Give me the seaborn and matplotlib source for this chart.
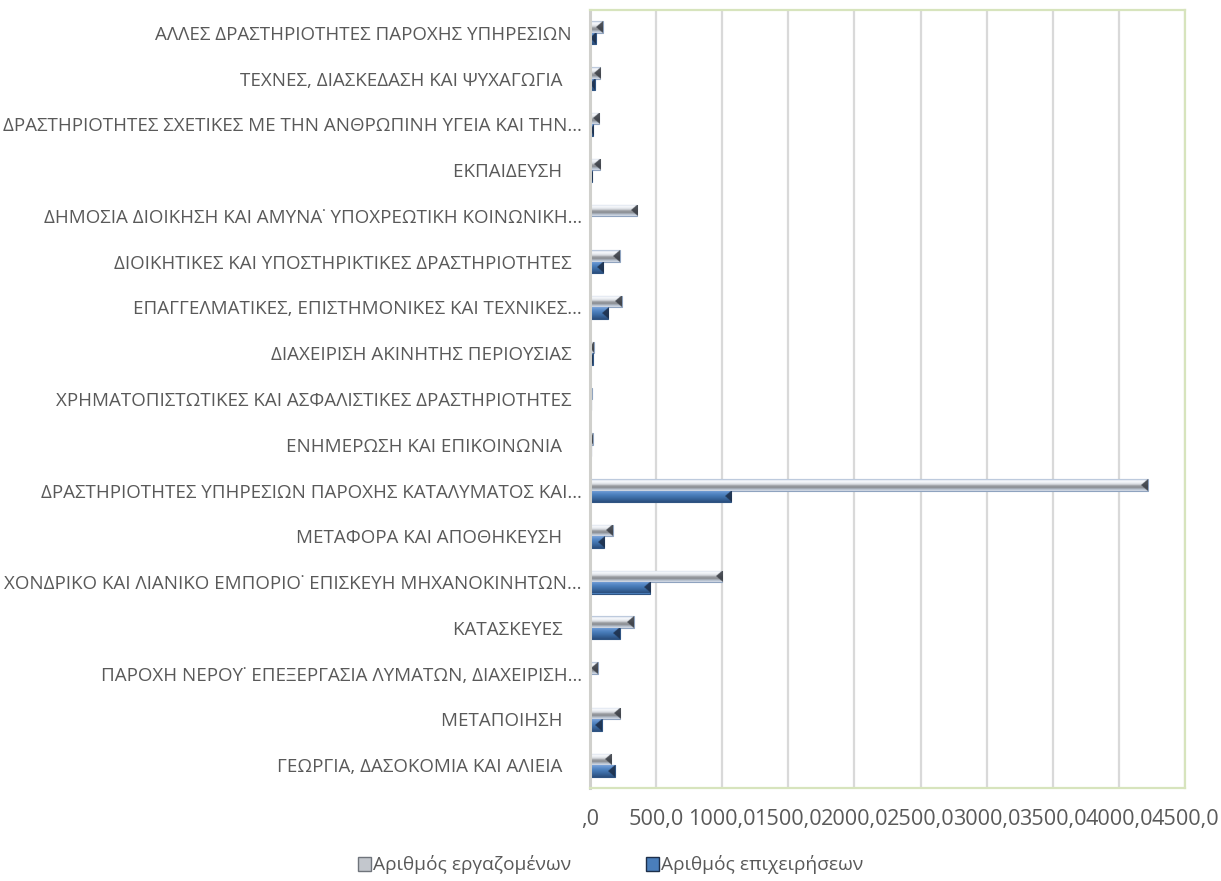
import numpy as np
import pandas as pd
import matplotlib
matplotlib.use("Agg")
import matplotlib.pyplot as plt
from matplotlib.colors import LinearSegmentedColormap, to_rgb
from matplotlib.patches import Patch
import seaborn as sns

# ---------------- data (top to bottom as shown) ----------------
categories = [
    "ΑΛΛΕΣ ΔΡΑΣΤΗΡΙΟΤΗΤΕΣ ΠΑΡΟΧΗΣ ΥΠΗΡΕΣΙΩΝ  ",
    "ΤΕΧΝΕΣ, ΔΙΑΣΚΕΔΑΣΗ ΚΑΙ ΨΥΧΑΓΩΓΙΑ    ",
    "ΔΡΑΣΤΗΡΙΟΤΗΤΕΣ ΣΧΕΤΙΚΕΣ ΜΕ ΤΗΝ ΑΝΘΡΩΠΙΝΗ ΥΓΕΙΑ ΚΑΙ ΤΗΝ…",
    "ΕΚΠΑΙΔΕΥΣΗ    ",
    "ΔΗΜΟΣΙΑ ΔΙΟΙΚΗΣΗ ΚΑΙ ΑΜΥΝΑ˙ ΥΠΟΧΡΕΩΤΙΚΗ ΚΟΙΝΩΝΙΚΗ…",
    "ΔΙΟΙΚΗΤΙΚΕΣ ΚΑΙ ΥΠΟΣΤΗΡΙΚΤΙΚΕΣ ΔΡΑΣΤΗΡΙΟΤΗΤΕΣ  ",
    "ΕΠΑΓΓΕΛΜΑΤΙΚΕΣ, ΕΠΙΣΤΗΜΟΝΙΚΕΣ ΚΑΙ ΤΕΧΝΙΚΕΣ…",
    "ΔΙΑΧΕΙΡΙΣΗ ΑΚΙΝΗΤΗΣ ΠΕΡΙΟΥΣΙΑΣ  ",
    "ΧΡΗΜΑΤΟΠΙΣΤΩΤΙΚΕΣ ΚΑΙ ΑΣΦΑΛΙΣΤΙΚΕΣ ΔΡΑΣΤΗΡΙΟΤΗΤΕΣ  ",
    "ΕΝΗΜΕΡΩΣΗ ΚΑΙ ΕΠΙΚΟΙΝΩΝΙΑ    ",
    "ΔΡΑΣΤΗΡΙΟΤΗΤΕΣ ΥΠΗΡΕΣΙΩΝ ΠΑΡΟΧΗΣ ΚΑΤΑΛΥΜΑΤΟΣ ΚΑΙ…",
    "ΜΕΤΑΦΟΡΑ ΚΑΙ ΑΠΟΘΗΚΕΥΣΗ    ",
    "ΧΟΝΔΡΙΚΟ ΚΑΙ ΛΙΑΝΙΚΟ ΕΜΠΟΡΙΟ˙ ΕΠΙΣΚΕΥΗ ΜΗΧΑΝΟΚΙΝΗΤΩΝ…",
    "ΚΑΤΑΣΚΕΥΕΣ    ",
    "ΠΑΡΟΧΗ ΝΕΡΟΥ˙ ΕΠΕΞΕΡΓΑΣΙΑ ΛΥΜΑΤΩΝ, ΔΙΑΧΕΙΡΙΣΗ…",
    "ΜΕΤΑΠΟΙΗΣΗ    ",
    "ΓΕΩΡΓΙΑ, ΔΑΣΟΚΟΜΙΑ ΚΑΙ ΑΛΙΕΙΑ    ",
]
employees = [95, 78, 71, 76, 358, 225, 240, 30, 13, 20, 4220, 172, 1000, 332, 57, 230, 162]
businesses = [45, 35, 25, 18, 0, 100, 137, 22, 4, 8, 1068, 107, 457, 225, 3, 90, 187]
series_names = ["Αριθμός εργαζομένων", "Αριθμός επιχειρήσεων"]
x_ticks = [0, 500, 1000, 1500, 2000, 2500, 3000, 3500, 4000, 4500]
x_tick_labels = [",0", "500,0", "1000,0", "1500,0", "2000,0", "2500,0",
                 "3000,0", "3500,0", "4000,0", "4500,0"]

df = pd.DataFrame({
    "category": categories * 2,
    "value": employees + businesses,
    "series": [series_names[0]] * len(categories) + [series_names[1]] * len(categories),
})

# ---------------- style ----------------
sns.set_theme(style="white")
FONT = ["Open Sans", "DejaVu Sans"]
plt.rcParams["font.family"] = FONT
TEXT = "#595959"

gray_mid = "#b9bdc4"
blue_mid = "#4a7ebb"
palette = {series_names[0]: gray_mid, series_names[1]: blue_mid}

fig = plt.figure(figsize=(12.21, 8.81), dpi=100)
ax = fig.add_axes([590 / 1221, 1 - 788 / 881, 595 / 1221, 778 / 881])

sns.barplot(data=df, y="category", x="value", hue="series", hue_order=series_names,
            palette=palette, orient="h", width=0.5, ax=ax, legend=False,
            saturation=1, linewidth=0.8)

ax.set_xlim(0, 4500)
ax.set_ylim(len(categories) - 0.5, -0.5)
ax.set_xticks(x_ticks)
ax.set_xticklabels(x_tick_labels, fontsize=15.6, color=TEXT)
ax.tick_params(axis="x", length=0, pad=15)
ax.tick_params(axis="y", length=0, pad=6, labelsize=13.5, labelcolor=TEXT)
ax.set_xlabel("")
ax.set_ylabel("")
ax.xaxis.grid(True, color="#d9d9d9", linewidth=1.6)
ax.yaxis.grid(False)
ax.set_axisbelow(True)
for side in ["top", "right", "bottom"]:
    ax.spines[side].set_visible(True)
    ax.spines[side].set_color("#d7e4bd")
    ax.spines[side].set_linewidth(1.6)
ax.spines["left"].set_color("#d0d0cc")
ax.spines["left"].set_linewidth(2.2)

# ---------------- bevel-like shading derived from the drawn bars ----------------
gray_cmap = LinearSegmentedColormap.from_list(
    "g", ["#a9bad3", "#f7f9fc", "#eef1f6", "#d6d9de", "#9a9da2", "#8a8d92", "#b5bfcd", "#d3dbe7"])
blue_cmap = LinearSegmentedColormap.from_list(
    "b", ["#7ea6da", "#5f8fcc", "#4a7ebb", "#3f70aa", "#345f94", "#2b4f7d"])
grad = np.linspace(0, 1, 64).reshape(-1, 1)

fig.canvas.draw()
px_per_unit = ax.transData.transform((1, 0))[0] - ax.transData.transform((0, 0))[0]

n = len(categories)
for i, patch in enumerate(list(ax.patches)):
    x0, y0 = patch.get_x(), patch.get_y()
    w, h = patch.get_width(), patch.get_height()
    if w <= 0:
        continue
    is_gray = i < n
    cmap = gray_cmap if is_gray else blue_cmap
    patch.set_edgecolor("#8fa3bf" if is_gray else "#2f5482")
    im = ax.imshow(grad, cmap=cmap, aspect="auto", origin="upper",
                   extent=(x0, x0 + w, y0 + h, y0), zorder=patch.get_zorder() + 0.1,
                   interpolation="bilinear")
    im.set_clip_path(patch)
    # dark wedge at bar end
    capw = min(w, 6.5 / px_per_unit)
    u = np.linspace(0, 1, 40).reshape(1, -1)
    v = np.linspace(0, 1, 40).reshape(-1, 1)
    inside = (u >= 2 * np.abs(v - 0.5)).astype(float)
    rgb = to_rgb("#3a3e45" if is_gray else "#1d2f4a")
    rgba = np.zeros((40, 40, 4))
    rgba[..., 0], rgba[..., 1], rgba[..., 2] = rgb
    rgba[..., 3] = inside * 0.9
    im2 = ax.imshow(rgba, aspect="auto", origin="upper",
                    extent=(x0 + w - capw, x0 + w, y0 + h, y0),
                    zorder=patch.get_zorder() + 0.2, interpolation="bilinear")
    im2.set_clip_path(patch)

ax.set_xlim(0, 4500)
ax.set_ylim(len(categories) - 0.5, -0.5)

# ---------------- legend ----------------
handles = [Patch(facecolor="#c3c7cd", edgecolor="#6f747b", linewidth=1.0),
           Patch(facecolor=blue_mid, edgecolor="#1d2f4a", linewidth=1.0)]
fig.legend(handles, series_names, loc="center", bbox_to_anchor=(0.5, 1 - 865 / 881),
           ncol=2, frameon=False, fontsize=13.8, labelcolor=TEXT,
           handlelength=0.7, handleheight=0.7, handletextpad=0.1, columnspacing=3.9)

fig.savefig("out.png", dpi=100, facecolor="white")
